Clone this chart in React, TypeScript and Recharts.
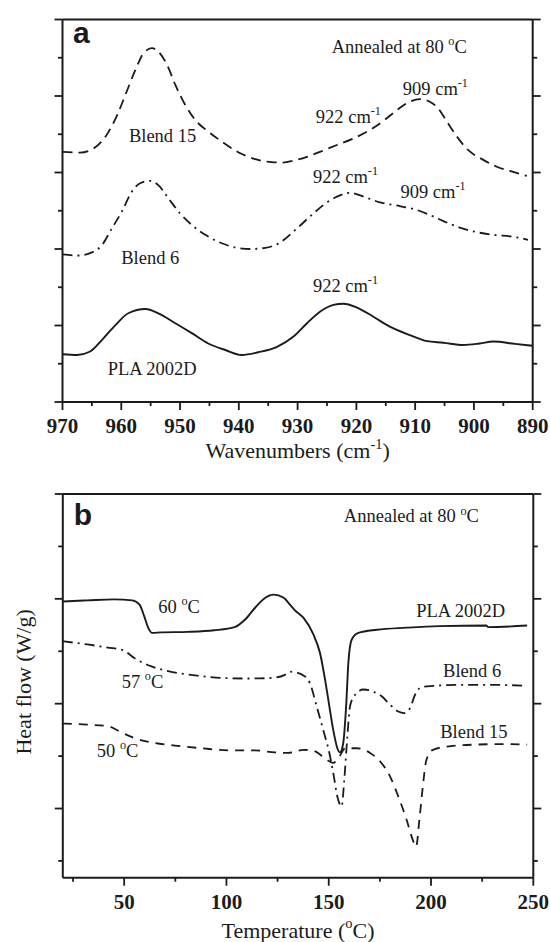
// FTIR + DSC panels for PLA 2002D and its blends, annealed at 80 °C
import React from "react";
import { LineChart, Line, XAxis, YAxis, ReferenceDot, Label } from "recharts";

// ---------- panel a: FTIR, 970 -> 890 cm-1 ----------
const plaWave = [970, 967.5, 965.3, 963.3, 961, 958.8, 955.9, 953.7, 950.8, 948, 945.2, 942.3, 939.5, 936.7, 933.5, 930.7, 928.4, 926.2, 923.9, 922.2, 919.9, 917.1, 914.3, 910.9, 908, 905.2, 901.8, 899, 896.7, 893, 890];
const plaAbs = [1.25, 1.23, 1.32, 1.62, 2.01, 2.32, 2.43, 2.32, 2.06, 1.8, 1.53, 1.36, 1.23, 1.3, 1.44, 1.71, 2.06, 2.36, 2.54, 2.57, 2.47, 2.23, 1.97, 1.75, 1.59, 1.55, 1.49, 1.53, 1.58, 1.52, 1.47];

const blend6Wave = [970, 967.3, 965, 963.3, 961.6, 959.9, 958.2, 956.8, 955.1, 953.7, 952, 950, 948, 945.7, 942.9, 940.6, 938.1, 935.5, 933.3, 930.1, 927.6, 925.6, 923.3, 921.1, 918.8, 916, 912.6, 909.7, 907.5, 905.2, 902.4, 899.5, 896.7, 893.3, 890.8];
const blend6Abs = [3.86, 3.83, 3.91, 4.1, 4.54, 4.98, 5.5, 5.72, 5.78, 5.67, 5.33, 4.93, 4.63, 4.37, 4.15, 4.04, 4.0, 4.03, 4.14, 4.54, 4.89, 5.15, 5.37, 5.47, 5.37, 5.22, 5.12, 5.02, 4.89, 4.73, 4.56, 4.44, 4.37, 4.32, 4.24];

const blend15Wave = [970, 967, 964.7, 962.5, 960.7, 959.3, 957.6, 956.2, 954.8, 953.7, 952.2, 950.8, 949.1, 947.4, 945.2, 942.9, 940.1, 937.2, 934.4, 932.5, 930.7, 928.4, 926.2, 923.3, 920.5, 917.7, 915.4, 913.1, 911.2, 909.2, 907.5, 906.1, 904.6, 902.9, 901, 898.4, 896.1, 893.9, 891];
const blend15Abs = [6.54, 6.52, 6.63, 6.98, 7.5, 8.03, 8.68, 9.12, 9.25, 9.16, 8.81, 8.29, 7.76, 7.37, 7.07, 6.81, 6.53, 6.35, 6.27, 6.26, 6.31, 6.41, 6.54, 6.72, 6.89, 7.11, 7.35, 7.63, 7.83, 7.92, 7.85, 7.68, 7.33, 6.94, 6.59, 6.33, 6.15, 6.04, 5.91];

const waveTicks = [970, 965, 960, 955, 950, 945, 940, 935, 930, 925, 920, 915, 910, 905, 900, 895, 890];
const absTicks = [0, 1, 2, 3, 4, 5, 6, 7, 8, 9, 10];

// ---------- panel b: DSC heat flow ----------
const plaTemp = [20, 32, 45, 54, 57.5, 59.8, 61.7, 63.7, 68, 81, 94, 104, 109, 114, 119, 123, 128, 131, 133.5, 137.6, 142.5, 145.7, 148.2, 150.3, 152.2, 154.2, 155.5, 157.1, 158.5, 159.6, 161.2, 164.5, 173.5, 188, 204, 227, 228, 247];
const plaFlow = [4.95, 4.97, 4.99, 4.97, 4.89, 4.67, 4.45, 4.35, 4.36, 4.37, 4.4, 4.46, 4.6, 4.83, 5.02, 5.08, 5.02, 4.89, 4.78, 4.64, 4.32, 3.97, 3.46, 2.95, 2.5, 2.15, 2.07, 2.25, 2.95, 3.78, 4.22, 4.35, 4.41, 4.45, 4.48, 4.49, 4.46, 4.49];

const blend6Temp = [20, 32, 42, 49.5, 55, 63.4, 71.5, 84.6, 97.6, 110.7, 122, 128.6, 131.2, 138.4, 140.8, 144.1, 147.3, 150.3, 152.2, 154.2, 156.3, 157.6, 159.1, 160.4, 162.9, 166.9, 171.8, 175.9, 180, 184, 186.8, 189.8, 192.2, 195.5, 201.2, 215.8, 229, 247];
const blend6Flow = [4.19, 4.13, 4.07, 4.02, 3.87, 3.71, 3.62, 3.54, 3.49, 3.48, 3.49, 3.55, 3.61, 3.52, 3.39, 2.95, 2.5, 2.06, 1.68, 1.23, 1.04, 1.55, 2.37, 2.95, 3.17, 3.27, 3.23, 3.14, 2.98, 2.85, 2.82, 2.92, 3.17, 3.32, 3.34, 3.36, 3.36, 3.34];

const blend15Temp = [20, 32, 42, 48.7, 55.2, 63.4, 74.8, 87.9, 100.9, 113.9, 123.7, 130.2, 137.6, 143.3, 149, 152.2, 155.2, 158, 163.7, 170.2, 175.1, 180, 184, 188.1, 191.1, 192.7, 194.3, 196, 197.6, 200.4, 207.7, 222.4, 237, 247];
const blend15Flow = [2.62, 2.6, 2.57, 2.45, 2.34, 2.26, 2.2, 2.15, 2.11, 2.11, 2.07, 2.06, 2.12, 2.09, 1.93, 1.87, 1.99, 2.15, 2.15, 2.06, 1.9, 1.61, 1.23, 0.78, 0.4, 0.27, 0.78, 1.42, 1.9, 2.11, 2.18, 2.22, 2.23, 2.22];

const tempTicks = [25, 50, 75, 100, 125, 150, 175, 200, 225, 250];
const flowTicks = [0, 1, 2, 3, 4, 5, 6, 7];

// annotation text, anchored at (x, y) in data units; ^{..} is a superscript
const ftirNotes = [
  { x: 968.2, y: 9.39, text: "a", panel: true },
  { x: 924.2, y: 9.12, text: "Annealed at 80 ^{o}C" },
  { x: 958.7, y: 6.81, text: "Blend 15" },
  { x: 960.0, y: 3.6, text: "Blend 6" },
  { x: 962.3, y: 0.71, text: "PLA 2002D" },
  { x: 912.1, y: 8.03, text: "909 cm^{-1}" },
  { x: 926.9, y: 7.29, text: "922 cm^{-1}" },
  { x: 927.4, y: 5.72, text: "922 cm^{-1}" },
  { x: 912.5, y: 5.34, text: "909 cm^{-1}" },
  { x: 927.4, y: 2.87, text: "922 cm^{-1}" },
];

const dscNotes = [
  { x: 25.3, y: 6.4, text: "b", panel: true },
  { x: 157.4, y: 6.46, text: "Annealed at 80 ^{o}C" },
  { x: 66.7, y: 4.73, text: "60 ^{o}C" },
  { x: 48.8, y: 3.3, text: "57 ^{o}C" },
  { x: 36.6, y: 1.99, text: "50 ^{o}C" },
  { x: 192.8, y: 4.65, text: "PLA 2002D" },
  { x: 205.9, y: 3.5, text: "Blend 6" },
  { x: 204.5, y: 2.34, text: "Blend 15" },
];

const SERIF = "'Liberation Serif', 'Times New Roman', serif";
const SANS = "'Liberation Sans', Arial, sans-serif";
const INK = "#1b1b1b";

const serifStyle = { fontFamily: SERIF };
const boldSerifStyle = { fontFamily: SERIF, fontWeight: 700 };

const zip = (xs: number[], ys: number[]) => xs.map((x, i) => ({ x, y: ys[i] }));

function richText(src: string, size: number) {
  const parts = src.split(/(\^\{[^}]*\})/).filter(Boolean);
  const out: React.ReactNode[] = [];
  let raised = false;
  parts.forEach((p, i) => {
    if (p.startsWith("^{")) {
      out.push(
        <tspan key={i} dy={-size * 0.42} fontSize={size * 0.66} style={serifStyle}>
          {p.slice(2, -1)}
        </tspan>
      );
      raised = true;
    } else {
      out.push(
        <tspan key={i} dy={raised ? size * 0.42 : 0} fontSize={size} style={serifStyle}>
          {p}
        </tspan>
      );
      raised = false;
    }
  });
  return out;
}

function noteLabel(text: string, panel?: boolean) {
  return (props: any) => {
    const vb = props.viewBox || {};
    if (panel) {
      return (
        <text x={vb.x} y={vb.y} style={{ fontFamily: SANS, fontWeight: 700 }} fontSize={30} fill={INK}>
          {text}
        </text>
      );
    }
    return (
      <text x={vb.x} y={vb.y} style={serifStyle} fill={INK}>
        {richText(text, 18.5)}
      </text>
    );
  };
}

function xTick(side: "bottom" | "top", isMajor: (v: number) => boolean) {
  return (props: any) => {
    const { x, y, payload } = props;
    const major = isMajor(payload.value);
    const dir = side === "bottom" ? 1 : -1;
    return (
      <g>
        <line x1={x} x2={x} y1={y} y2={y + dir * (major ? 8 : 4)} stroke={INK} strokeWidth={1.8} />
        {side === "bottom" && major && (
          <text x={x} y={y + 31} textAnchor="middle" style={boldSerifStyle} fontSize={21} fill={INK} stroke="none">
            {payload.value}
          </text>
        )}
      </g>
    );
  };
}

function yTick(side: "left" | "right", isMajor: (v: number) => boolean) {
  return (props: any) => {
    const { x, y, payload } = props;
    const dir = side === "left" ? -1 : 1;
    const len = isMajor(payload.value) ? 8 : 4.5;
    return <line x1={x} x2={x + dir * len} y1={y} y2={y} stroke={INK} strokeWidth={1.8} />;
  };
}

const frame = { stroke: INK, strokeWidth: 2 };
// every axis box is 1px thick (a 0px box is not drawn); margins make up the rest
const AX = 1;

function FtirPanel() {
  const major = (v: number) => v % 10 === 0;
  const yMajor = (v: number) => v % 2 === 0;
  return (
    <LineChart width={550} height={470} margin={{ top: 19.5 - AX, right: 17.3 - AX, bottom: 68 - AX, left: 62.5 - AX }}>
      <XAxis xAxisId="b" type="number" dataKey="x" domain={[890, 970]} reversed allowDataOverflow ticks={waveTicks} interval={0} height={AX} tickSize={0} tickMargin={0} tickLine={false} axisLine={frame} tick={xTick("bottom", major)}>
        <Label
          content={(p: any) => {
            const vb = p.viewBox;
            return (
              <text x={vb.x + vb.width / 2} y={vb.y + 56} textAnchor="middle" style={serifStyle} fill={INK} stroke="none">
                {richText("Wavenumbers (cm^{-1})", 22)}
              </text>
            );
          }}
        />
      </XAxis>
      <XAxis xAxisId="t" orientation="top" type="number" domain={[890, 970]} reversed allowDataOverflow ticks={waveTicks} interval={0} height={AX} tickSize={0} tickMargin={0} tickLine={false} axisLine={frame} tick={xTick("top", major)} />
      <YAxis yAxisId="l" type="number" domain={[0, 10]} allowDataOverflow ticks={absTicks} interval={0} width={AX} tickSize={0} tickMargin={0} tickLine={false} axisLine={frame} tick={yTick("left", yMajor)} />
      <YAxis yAxisId="r" orientation="right" type="number" domain={[0, 10]} allowDataOverflow ticks={absTicks} interval={0} width={AX} tickSize={0} tickMargin={0} tickLine={false} axisLine={frame} tick={yTick("right", yMajor)} />
      <Line xAxisId="b" yAxisId="l" data={zip(blend15Wave, blend15Abs)} dataKey="y" type="monotone" stroke={INK} strokeWidth={1.8} strokeDasharray="10 6" dot={false} isAnimationActive={false} />
      <Line xAxisId="b" yAxisId="l" data={zip(blend6Wave, blend6Abs)} dataKey="y" type="monotone" stroke={INK} strokeWidth={1.8} strokeDasharray="10 5 2 5" dot={false} isAnimationActive={false} />
      <Line xAxisId="b" yAxisId="l" data={zip(plaWave, plaAbs)} dataKey="y" type="monotone" stroke={INK} strokeWidth={1.9} dot={false} isAnimationActive={false} />
      {ftirNotes.map((n, i) => (
        <ReferenceDot key={i} xAxisId="b" yAxisId="l" x={n.x} y={n.y} r={0} fill="none" stroke="none" label={noteLabel(n.text, n.panel)} />
      ))}
    </LineChart>
  );
}

function DscPanel() {
  const major = (v: number) => v % 50 === 0;
  const yMajor = (v: number) => v % 2 === 1;
  return (
    <LineChart width={550} height={472} margin={{ top: 24 - AX, right: 16.7 - AX, bottom: 64.3 - AX, left: 62.8 - AX }}>
      <XAxis xAxisId="b" type="number" dataKey="x" domain={[20, 250]} allowDataOverflow ticks={tempTicks} interval={0} height={AX} tickSize={0} tickMargin={0} tickLine={false} axisLine={frame} tick={xTick("bottom", major)}>
        <Label
          content={(p: any) => {
            const vb = p.viewBox;
            return (
              <text x={vb.x + vb.width / 2} y={vb.y + 60} textAnchor="middle" style={serifStyle} fill={INK} stroke="none">
                {richText("Temperature (^{o}C)", 22)}
              </text>
            );
          }}
        />
      </XAxis>
      <XAxis xAxisId="t" orientation="top" type="number" domain={[20, 250]} allowDataOverflow ticks={tempTicks} interval={0} height={AX} tickSize={0} tickMargin={0} tickLine={false} axisLine={frame} tick={xTick("top", major)} />
      <YAxis yAxisId="l" type="number" domain={[-0.32, 7]} allowDataOverflow ticks={flowTicks} interval={0} width={AX} tickSize={0} tickMargin={0} tickLine={false} axisLine={frame} tick={yTick("left", yMajor)}>
        <Label
          content={(p: any) => {
            const vb = p.viewBox;
            const cx = vb.x + vb.width - 32;
            const cy = vb.y + vb.height / 2 - 4;
            return (
              <text x={cx} y={cy} transform={`rotate(-90 ${cx} ${cy})`} textAnchor="middle" style={serifStyle} fontSize={22} fill={INK} stroke="none">
                Heat flow (W/g)
              </text>
            );
          }}
        />
      </YAxis>
      <YAxis yAxisId="r" orientation="right" type="number" domain={[-0.32, 7]} allowDataOverflow ticks={flowTicks} interval={0} width={AX} tickSize={0} tickMargin={0} tickLine={false} axisLine={frame} tick={yTick("right", yMajor)} />
      <Line xAxisId="b" yAxisId="l" data={zip(blend15Temp, blend15Flow)} dataKey="y" type="monotone" stroke={INK} strokeWidth={1.8} strokeDasharray="9 7" dot={false} isAnimationActive={false} />
      <Line xAxisId="b" yAxisId="l" data={zip(blend6Temp, blend6Flow)} dataKey="y" type="monotone" stroke={INK} strokeWidth={1.8} strokeDasharray="10 5 2 5" dot={false} isAnimationActive={false} />
      <Line xAxisId="b" yAxisId="l" data={zip(plaTemp, plaFlow)} dataKey="y" type="monotone" stroke={INK} strokeWidth={1.9} dot={false} isAnimationActive={false} />
      {dscNotes.map((n, i) => (
        <ReferenceDot key={i} xAxisId="b" yAxisId="l" x={n.x} y={n.y} r={0} fill="none" stroke="none" label={noteLabel(n.text, n.panel)} />
      ))}
    </LineChart>
  );
}

export default function App() {
  return (
    <div style={{ position: "absolute", left: 0, top: 0, width: 550, height: 942, background: "#fff", overflow: "hidden" }}>
      <div style={{ position: "absolute", left: 0, top: 0 }}>
        <FtirPanel />
      </div>
      <div style={{ position: "absolute", left: 0, top: 470 }}>
        <DscPanel />
      </div>
    </div>
  );
}
